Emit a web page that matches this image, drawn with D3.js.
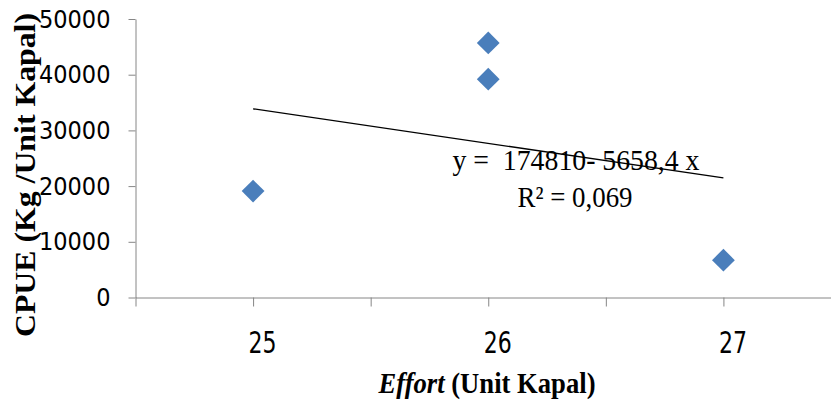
<!DOCTYPE html>
<html>
<head>
<meta charset="utf-8">
<script src="https://cdn.jsdelivr.net/npm/d3@7"></script>
<style>
  body { margin: 0; background: #fff; }
  .axis path, .axis line { stroke: #868686; }
</style>
</head>
<body>
<svg id="chart"></svg>
<script>
// data
const effort = [25, 26, 26, 27];
const cpue = [19100, 45700, 39200, 6700];
const yTicks = [0, 10000, 20000, 30000, 40000, 50000];
const xTicks = [24.5, 25, 25.5, 26, 26.5, 27, 27.5];
const xLabels = ["", "25", "", "26", "", "27", ""];
const equation = "y =  174810- 5658,4 x";
const rSquared = "R² = 0,069";

const W = 831, H = 403;
const margin = {top: 19, left: 135.5, bottom: 403 - 297.5};

const svg = d3.select("#chart")
  .attr("width", W)
  .attr("height", H);

const x = d3.scaleLinear()
  .domain([24.5, 27.5])
  .range([margin.left, 841]);
const y = d3.scaleLinear()
  .domain([0, 50000])
  .range([297.5, margin.top]);

const tickFont = "'DejaVu Sans Condensed', 'Liberation Sans Narrow', sans-serif";
const serif = "'Liberation Serif', 'Times New Roman', serif";

// y axis
svg.append("g")
  .attr("class", "axis")
  .attr("transform", `translate(${margin.left},0)`)
  .call(d3.axisLeft(y).tickValues(yTicks).tickFormat(d3.format("d")).tickSize(7).tickPadding(18).tickSizeOuter(0))
  .call(g => g.selectAll("text")
    .attr("font-family", tickFont)
    .attr("font-size", 25)
    .attr("fill", "#000"));

// x axis
svg.append("g")
  .attr("class", "axis")
  .attr("transform", `translate(0,${y(0)})`)
  .call(d3.axisBottom(x).tickValues(xTicks).tickFormat((d, i) => xLabels[i]).tickSize(9).tickSizeOuter(0))
  .call(g => g.selectAll("text")
    .attr("font-family", tickFont)
    .attr("font-size", 30)
    .attr("fill", "#000")
    .attr("y", 55)
    .attr("dy", 0)
    .attr("dx", 9))
  .call(g => g.selectAll("text").filter(function() { return this.textContent !== ""; })
    .attr("textLength", 28)
    .attr("lengthAdjust", "spacingAndGlyphs"));

// linear trend from the points (least squares)
const mx = d3.mean(effort), my = d3.mean(cpue);
const slope = d3.sum(effort, (d, i) => (d - mx) * (cpue[i] - my)) / d3.sum(effort, d => (d - mx) * (d - mx));
const icept = my - slope * mx;
const ext = d3.extent(effort);

svg.append("line")
  .attr("x1", x(ext[0]))
  .attr("y1", y(icept + slope * ext[0]))
  .attr("x2", x(ext[1]))
  .attr("y2", y(icept + slope * ext[1]))
  .attr("stroke", "#000")
  .attr("stroke-width", 1.3);

// diamonds
const diamond = d3.symbol().type(d3.symbolSquare).size(260);
svg.selectAll(".pt")
  .data(effort.map((d, i) => ({e: d, c: cpue[i]})))
  .join("path")
  .attr("class", "pt")
  .attr("d", diamond)
  .attr("transform", d => `translate(${x(d.e)},${y(d.c)}) rotate(45)`)
  .attr("fill", "#4a7ebb");

// trend equation
svg.append("text")
  .attr("x", 576)
  .attr("y", 170)
  .attr("text-anchor", "middle")
  .attr("font-family", serif)
  .attr("font-size", 30)
  .attr("textLength", 247)
  .attr("lengthAdjust", "spacingAndGlyphs")
  .style("white-space", "pre")
  .text(equation);

svg.append("text")
  .attr("x", 575)
  .attr("y", 207)
  .attr("text-anchor", "middle")
  .attr("font-family", serif)
  .attr("font-size", 30)
  .attr("textLength", 115)
  .attr("lengthAdjust", "spacingAndGlyphs")
  .text(rSquared);

// axis titles
const xt = svg.append("text")
  .attr("x", 487)
  .attr("y", 393)
  .attr("text-anchor", "middle")
  .attr("font-family", serif)
  .attr("font-size", 29)
  .attr("font-weight", "bold")
  .attr("textLength", 217)
  .attr("lengthAdjust", "spacingAndGlyphs");
xt.append("tspan").attr("font-style", "italic").text("Effort");
xt.append("tspan").text(" (Unit Kapal)");

svg.append("text")
  .attr("transform", "translate(35,175) rotate(-90)")
  .attr("text-anchor", "middle")
  .attr("font-family", serif)
  .attr("font-size", 29)
  .attr("font-weight", "bold")
  .attr("textLength", 324)
  .attr("lengthAdjust", "spacingAndGlyphs")
  .text("CPUE (Kg /Unit Kapal)");
</script>
</body>
</html>
